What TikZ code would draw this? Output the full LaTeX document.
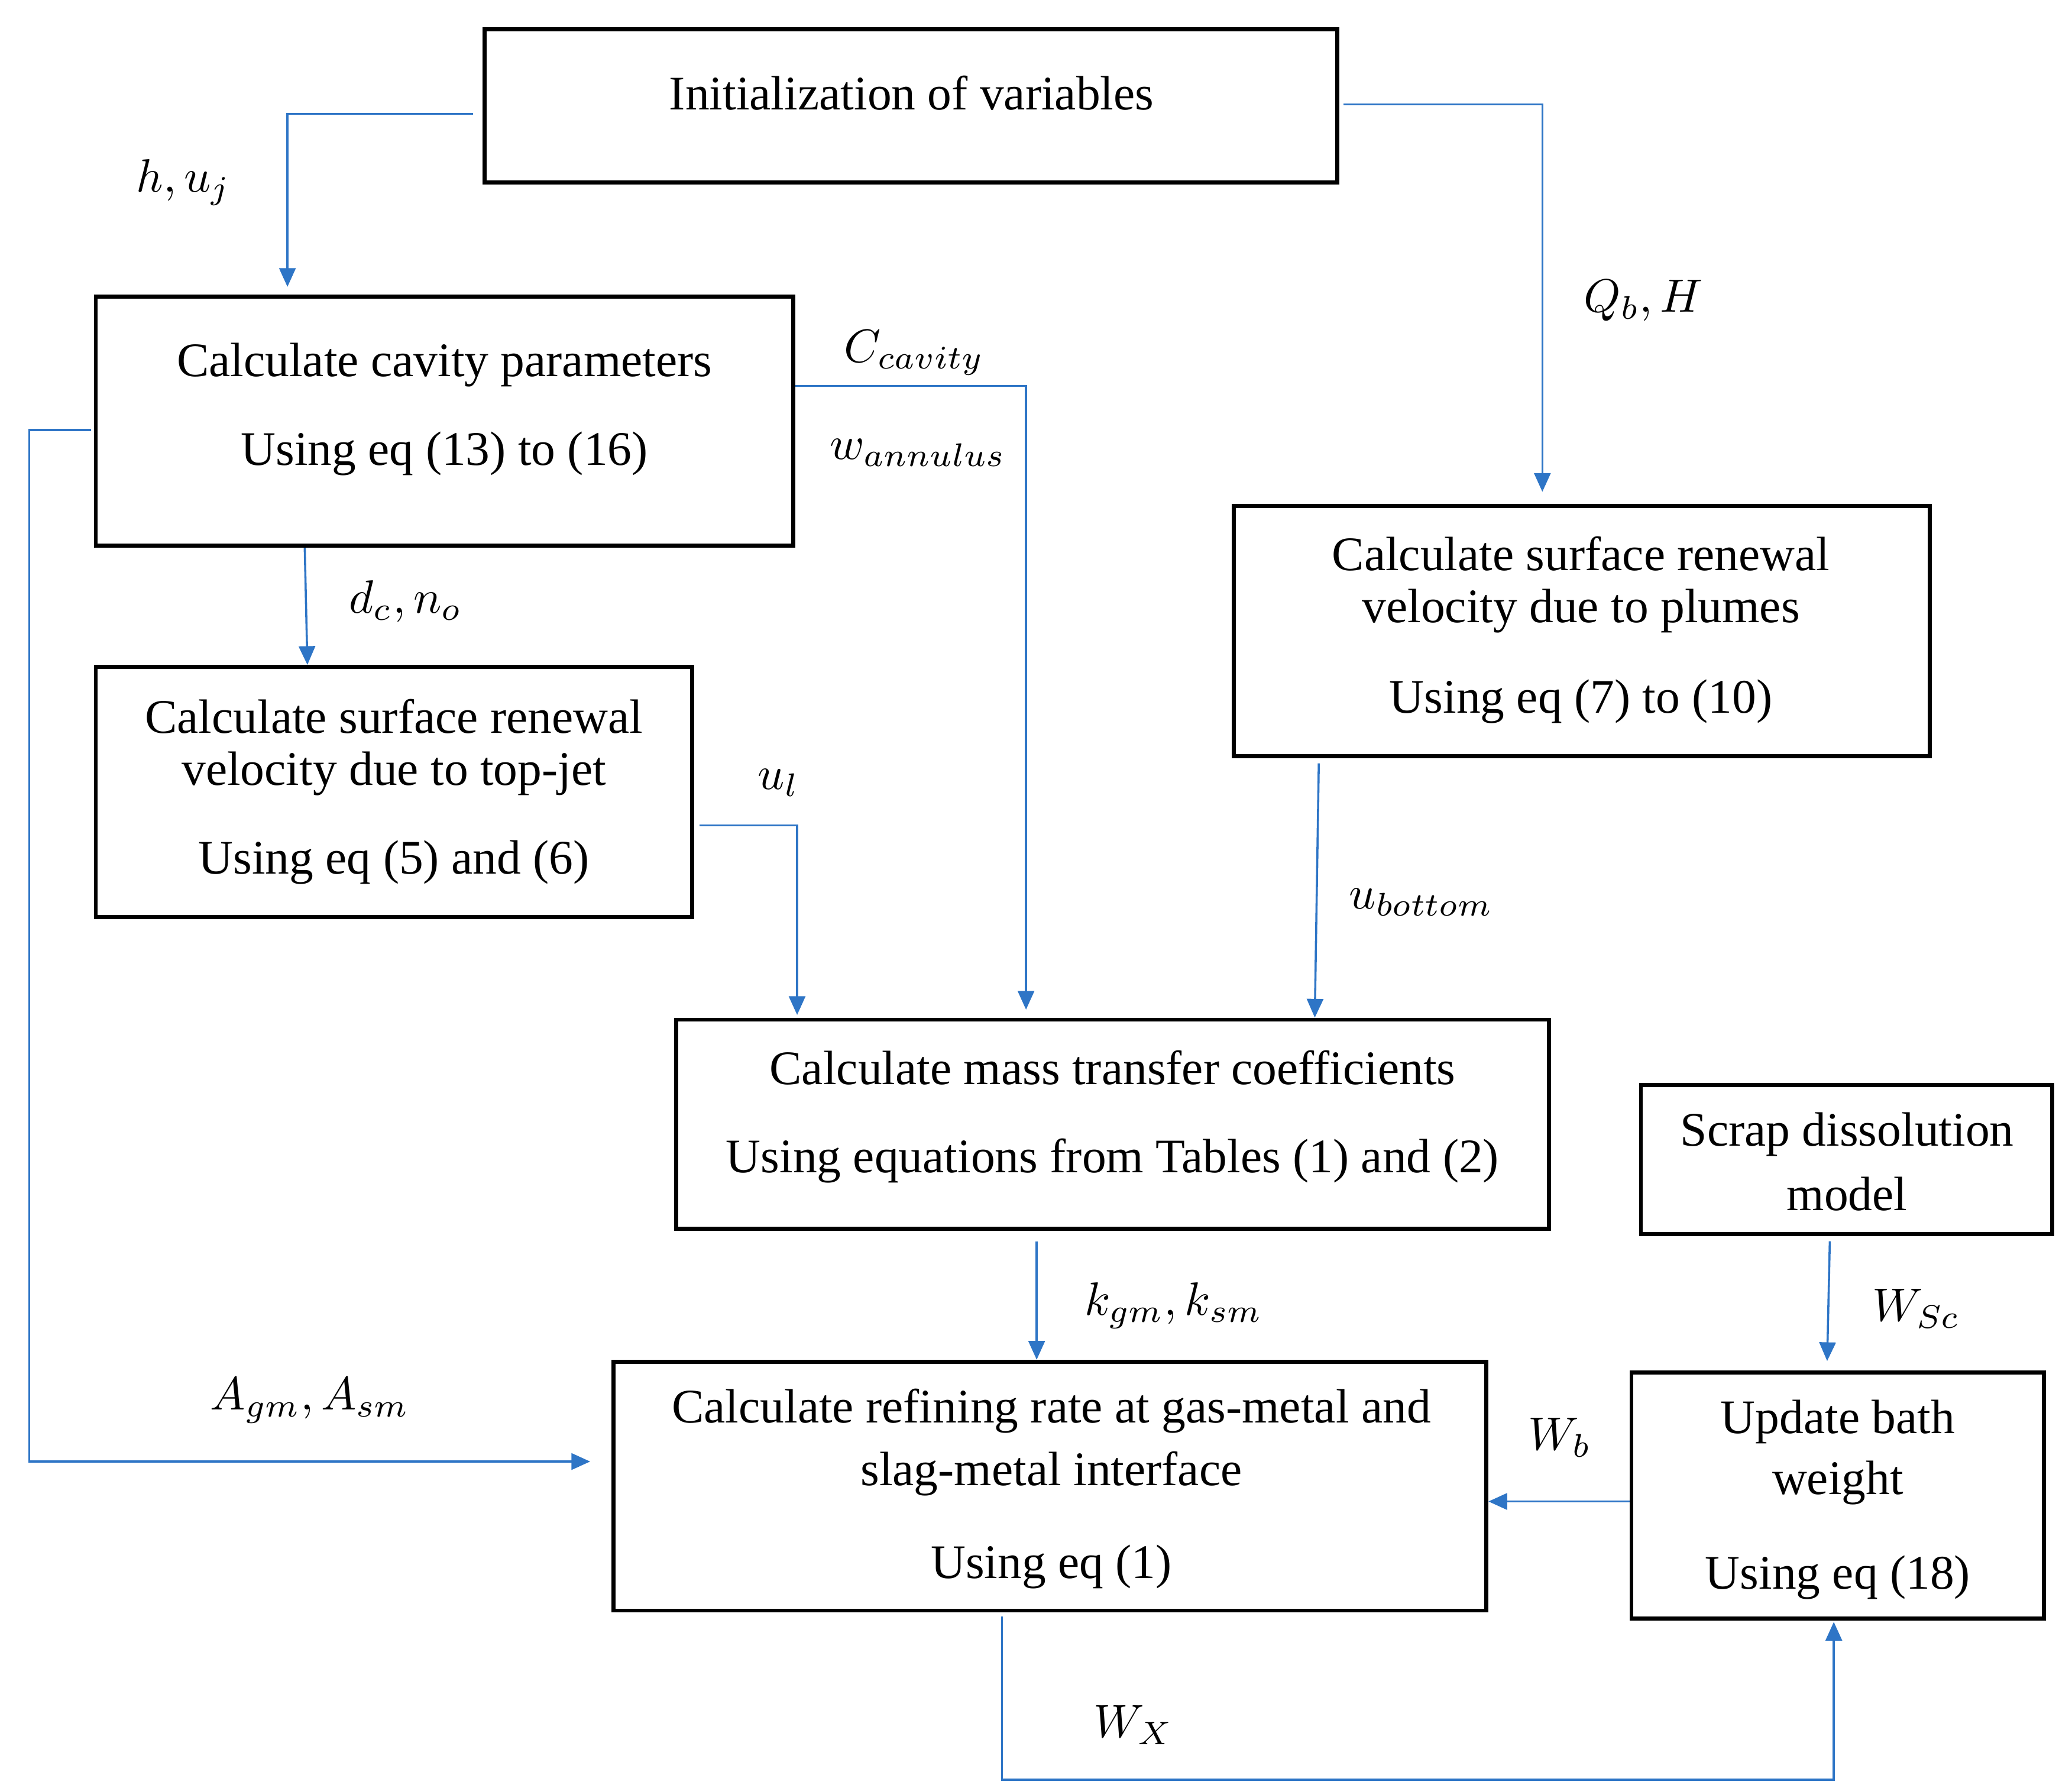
\documentclass[tikz,border=0pt]{standalone}
\usepackage{fontspec}
\setmainfont{Liberation Serif}
\usetikzlibrary{arrows.meta}
\begin{document}
\begin{tikzpicture}[x=0.01cm,y=-0.01cm,
 box/.style={draw,line width=0.85pt,inner sep=0},
 t/.style={font=\fontsize{10.3}{12}\selectfont,inner sep=0},
 lab/.style={font=\fontsize{10}{12}\selectfont,inner sep=0},
 ar/.style={draw={rgb,255:red,46;green,117;blue,198},line width=0.45pt,-{Triangle[length=4pt,width=3.5pt]}}]
\useasboundingbox (0,0) rectangle (1557,1343);
\newcommand\bx[5]{\node[box,minimum width={(#4-#2)*0.01cm},minimum height={(#5-#3)*0.01cm}] (#1) at ({(#2+#4)/2},{(#3+#5)/2}) {};}
\bx{init}{364}{22}{1005}{137}
\bx{cav}{72}{223}{596}{410}
\bx{jet}{72}{501}{520}{689}
\bx{plu}{927}{380}{1450}{568}
\bx{mass}{508}{766}{1164}{923}
\bx{scr}{1233}{815}{1542}{927}
\bx{ref}{461}{1023}{1117}{1210}
\bx{upd}{1226}{1031}{1536}{1216}
\node[t] at (685,70) {Initialization of variables};
\node[t] at (334,274) {Calculate cavity parameters};
\node[t] at (334,341) {Using eq (13) to (16)};
\node[t] at (296,538) {Calculate surface renewal};
\node[t] at (296,581) {velocity due to top-jet};
\node[t] at (296,648) {Using eq (5) and (6)};
\node[t] at (1188,416) {Calculate surface renewal};
\node[t] at (1188,459) {velocity due to plumes};
\node[t] at (1188,527) {Using eq (7) to (10)};
\node[t] at (836,802) {Calculate mass transfer coefficients};
\node[t] at (836,872) {Using equations from Tables (1) and (2)};
\node[t] at (1388,852) {Scrap dissolution};
\node[t] at (1388,897) {model};
\node[t] at (790,1060) {Calculate refining rate at gas-metal and};
\node[t] at (790,1107) {slag-metal interface};
\node[t] at (790,1177) {Using eq (1)};
\node[t] at (1381,1068) {Update bath};
\node[t] at (1381,1114) {weight};
\node[t] at (1381,1185) {Using eq (18)};
% labels
\node[lab] at (138,137) {$h, u_j$};
\node[lab] at (1235,226) {$Q_b, H$};
\node[lab] at (687,265) {$C_{cavity}$};
\node[lab] at (690,340) {$w_{annulus}$};
\node[lab] at (305,452) {$d_c, n_o$};
\node[lab] at (585,588) {$u_l$};
\node[lab] at (1068,678) {$u_{bottom}$};
\node[lab] at (882,981) {$k_{gm}, k_{sm}$};
\node[lab] at (233,1052) {$A_{gm}, A_{sm}$};
\node[lab] at (1440,983) {$W_{Sc}$};
\node[lab] at (1172,1080) {$W_b$};
\node[lab] at (852,1296) {$W_X$};
% connectors
\draw[ar] ([xshift=-0.07cm,yshift=-0.06cm]init.west) -| ([yshift=0.06cm]cav.north -| 216,0);
\draw[ar] ([xshift=0.03cm,yshift=0.01cm]init.east) -| ([yshift=0.09cm]plu.north -| 1159,0);
\draw[ar] (cav.east |- 0,290) -| ([yshift=0.06cm]mass.north -| 771,0);
\draw[ar] (cav.south -| 229,0) -- (jet.north -| 231,0);
\draw[ar] ([xshift=0.04cm]jet.east |- 0,620) -| ([yshift=0.02cm]mass.north -| 599,0);
\draw[ar] ([yshift=-0.04cm]plu.south -| 991,0) -- (mass.north -| 988,0);
\draw[ar] ([yshift=-0.08cm]mass.south -| 779,0) -- (ref.north -| 779,0);
\draw[ar] ([xshift=-0.02cm]cav.west |- 0,323) -| (22,700) |- ([xshift=-0.16cm]ref.west |- 0,1098);
\draw[ar] ([yshift=-0.04cm]scr.south -| 1375,0) -- ([yshift=0.07cm]upd.north -| 1373,0);
\draw[ar] (upd.west |- 0,1128) -- (ref.east |- 0,1128);
\draw[ar] ([yshift=-0.03cm]ref.south -| 753,0) |- (1065,1337) -| ([yshift=-0.01cm]upd.south -| 1378,0);
\end{tikzpicture}
\end{document}
